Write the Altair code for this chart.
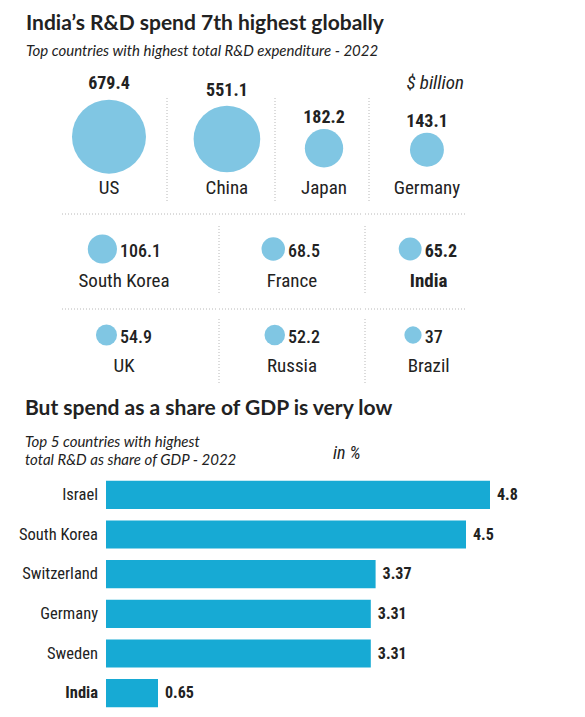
import altair as alt
import pandas as pd

# ---------------- data ----------------
spend_countries = ["US", "China", "Japan", "Germany", "South Korea",
                   "France", "India", "UK", "Russia", "Brazil"]
spend_values = [679.4, 551.1, 182.2, 143.1, 106.1, 68.5, 65.2, 54.9, 52.2, 37]

gdp_countries = ["Israel", "South Korea", "Switzerland", "Germany", "Sweden", "India"]
gdp_values = [4.8, 4.5, 3.37, 3.31, 3.31, 0.65]

highlight = "India"
spend_unit = "$ billion"
gdp_unit = "in %"


def fmt(v):
    return f"{v:g}"


spend_df = pd.DataFrame({"country": spend_countries, "value": spend_values})
spend_df["label"] = spend_df["value"].map(fmt)

gdp_df = pd.DataFrame({"country": gdp_countries, "value": gdp_values})
gdp_df["label"] = gdp_df["value"].map(fmt)

# ---------------- style ----------------
FONT_T = "Lato"
FONT_L = "Roboto Condensed, Roboto, sans-serif"
BUB = "#80c6e3"
BAR = "#17aad4"
INK = "#222222"
GRID = "#b8b8b8"
DASH = [1, 2]
VMAX = max(spend_values)
RMAX = 37
AMAX = (2 * RMAX) ** 2  # Vega circle: r = sqrt(size) / 2

size_enc = alt.Size("value:Q", legend=None,
                    scale=alt.Scale(domain=[0, VMAX], range=[0, AMAX]))


def spacer(w, h):
    return alt.Chart(pd.DataFrame({"a": [0]})).mark_rule(opacity=0).encode(
        x=alt.value(0), y=alt.value(0), y2=alt.value(1)
    ).properties(width=w, height=h)


def divider(base, y0, y1):
    return base.mark_rule(color=GRID, strokeDash=DASH, strokeWidth=1).encode(
        x=alt.value(0), y=alt.value(y0), y2=alt.value(y1))


def hline(base, w):
    return base.mark_rule(color=GRID, strokeDash=DASH, strokeWidth=1).encode(
        x=alt.value(0), x2=alt.value(w), y=alt.value(0))


# row 1: big bubbles
ROW1_W = [105, 107, 93, 95]
ROW1_F = [0.457, 0.56, 0.527, 0.61]
ROW1_H = 151
C0 = 98.7        # circle centre for a zero-size bubble (local px)
LAB0 = 97.5      # value-label baseline for a zero-size bubble


def top_cell(i):
    name = spend_countries[i]
    w, f = ROW1_W[i], ROW1_F[i]
    s = f * w - w / 2
    base = alt.Chart(spend_df[spend_df.country == name])
    x = alt.X("country:N", axis=None)
    circ = base.mark_circle(color=BUB, opacity=1, xOffset=s).encode(
        x=x,
        y=alt.Y("value:Q", axis=None,
                scale=alt.Scale(type="sqrt", domain=[0, VMAX],
                                range=[C0, C0 - 0.65 * RMAX])),
        size=size_enc)
    val = base.mark_text(font=FONT_L, fontSize=18, fontWeight="bold", color=INK,
                         baseline="alphabetic", xOffset=s).encode(
        x=x,
        y=alt.Y("value:Q", axis=None,
                scale=alt.Scale(type="sqrt", domain=[0, VMAX],
                                range=[LAB0, LAB0 - 70.5])),
        text="label:N")
    lab = base.mark_text(font=FONT_L, fontSize=19, color=INK, baseline="middle",
                         xOffset=s).encode(x=x, y=alt.value(126), text="country:N")
    layers = [circ, val, lab]
    if i > 0:
        layers.append(divider(base, 36, 141))
    if i == len(ROW1_W) - 1:
        unit_df = pd.DataFrame({"t": [spend_unit]})
        layers.append(alt.Chart(unit_df).mark_text(
            font=FONT_L, fontSize=19, fontStyle="italic", fontWeight="normal",
            color=INK, align="right", baseline="middle").encode(
            x=alt.value(w), y=alt.value(21), text="t:N"))
    return alt.layer(*layers).resolve_scale(y="independent").properties(
        width=w, height=ROW1_H)


# rows 2 and 3: small bubbles with value to the right
ROW_W = [155, 144, 101]
ROW_F = [0.40, 0.507, 0.63]


def small_cell(i, j, H, cy, ly, d0, d1):
    name = spend_countries[i]
    w, f = ROW_W[j], ROW_F[j]
    s = f * w - w / 2
    A = f * w - 7
    is_hl = name == highlight
    base = alt.Chart(spend_df[spend_df.country == name])
    x = alt.X("country:N", axis=None)
    circ = base.mark_circle(color=BUB, opacity=1).encode(
        x=alt.X("value:Q", axis=None,
                scale=alt.Scale(type="sqrt", domain=[0, VMAX], range=[A, A - RMAX])),
        y=alt.value(cy),
        size=size_enc)
    val = base.mark_text(font=FONT_L, fontSize=18, fontWeight="bold" if is_hl else 500,
                         color=INK, align="left", baseline="middle",
                         xOffset=s - 4).encode(x=x, y=alt.value(cy + 3), text="label:N")
    lab = base.mark_text(font=FONT_L, fontSize=19,
                         fontWeight="bold" if is_hl else "normal", color=INK,
                         baseline="middle", xOffset=s).encode(
        x=x, y=alt.value(ly), text="country:N")
    layers = [hline(base, w), circ, val, lab]
    if j > 0:
        layers.append(divider(base, d0, d1))
    return alt.layer(*layers).resolve_scale(x="independent").properties(
        width=w, height=H)


LEFT_PAD = 38

row1 = alt.hconcat(spacer(LEFT_PAD, ROW1_H), *[top_cell(i) for i in range(4)], spacing=0)
row2 = alt.hconcat(spacer(LEFT_PAD, 94),
                   *[small_cell(4 + j, j, 94, 35, 67, 12, 80) for j in range(3)], spacing=0)
row3 = alt.hconcat(spacer(LEFT_PAD, 88),
                   *[small_cell(7 + j, j, 88, 26, 57, 10, 76) for j in range(3)], spacing=0)

# ---------------- bar chart ----------------
BAR_H = 238
LABEL_W = 83
bar_base = alt.Chart(gdp_df)
yb = alt.Y("country:N", sort=gdp_countries, axis=None,
           scale=alt.Scale(paddingInner=0.29, paddingOuter=0.145))

lab_norm = bar_base.transform_filter(f"datum.country != '{highlight}'").mark_text(
    font=FONT_L, fontSize=16.5, color=INK, align="right", baseline="middle").encode(
    x=alt.value(LABEL_W - 8), y=yb, text="country:N")
lab_bold = bar_base.transform_filter(f"datum.country == '{highlight}'").mark_text(
    font=FONT_L, fontSize=16.5, fontWeight="bold", color=INK, align="right",
    baseline="middle").encode(x=alt.value(LABEL_W - 8), y=yb, text="country:N")
label_panel = alt.layer(lab_norm, lab_bold).properties(width=LABEL_W, height=BAR_H)

xq = alt.X("value:Q", axis=None, scale=alt.Scale(domain=[0, 5]))
bars = bar_base.mark_bar(color=BAR).encode(x=xq, y=yb)
bar_text = bar_base.mark_text(align="left", dx=7, font=FONT_L, fontSize=16,
                              fontWeight="bold", color=INK).encode(x=xq, y=yb, text="label:N")
unit = alt.Chart(pd.DataFrame({"t": [gdp_unit]})).mark_text(
    font=FONT_L, fontSize=18, fontStyle="italic", fontWeight="normal",
    color=INK, align="left").encode(x=alt.value(227), y=alt.value(-21), text="t:N")
bar_panel = alt.layer(bars, bar_text, unit).properties(width=400, height=BAR_H)

bar_section = alt.hconcat(
    label_panel, bar_panel, spacing=0,
    title=alt.TitleParams(
        "But spend as a share of GDP is very low",
        subtitle=["Top 5 countries with highest", "total R&D as share of GDP - 2022"],
        anchor="start", font=FONT_T, fontSize=21, fontWeight="bold", color=INK,
        subtitleFont=FONT_T, subtitleFontSize=15, subtitleFontStyle="italic",
        subtitleColor=INK, subtitlePadding=16, subtitleLineHeight=18, offset=-22.5,
        dx=6))

chart = alt.vconcat(
    row1, row2, row3, bar_section, spacing=0,
    title=alt.TitleParams(
        "India’s R&D spend 7th highest globally",
        subtitle="Top countries with highest total R&D expenditure - 2022",
        anchor="start", font=FONT_T, fontSize=21, fontWeight="bold", color=INK,
        subtitleFont=FONT_T, subtitleFontSize=15, subtitleFontStyle="italic",
        subtitleColor=INK, subtitlePadding=10, offset=3, dx=7),
).properties(
    padding={"left": 10, "top": 5, "right": 5, "bottom": 0},
    background="white",
).configure_view(stroke=None)

chart.save("out.html", embed_options={"renderer": "svg", "actions": False})
